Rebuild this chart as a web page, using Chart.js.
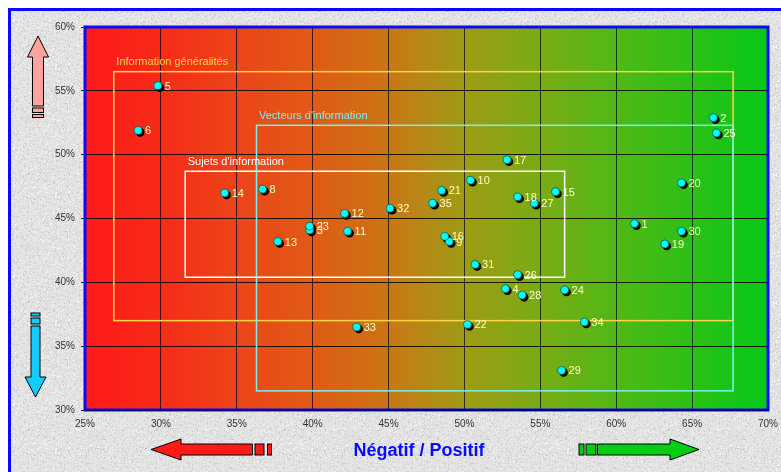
<!DOCTYPE html>
<html>
<head>
<meta charset="utf-8">
<script src="https://cdn.jsdelivr.net/npm/chart.js@4"></script>
<style>
  html, body { margin: 0; padding: 0; background: #fff; overflow: hidden; }
  #wrap { width: 781px; height: 472px; }
</style>
</head>
<body>
<div id="wrap"><canvas id="c" width="781" height="472"></canvas></div>
<script>
// Positions of each numbered item: x = négatif/positif share, y = vertical score (both in %)
const pointIds = [1, 2, 3, 4, 5, 6, 8, 9, 10, 11, 12, 13, 14, 15, 16, 17, 18, 19, 20, 21, 22, 23, 24, 25, 26, 27, 28, 29, 30, 31, 32, 33, 34, 35];
const xValues  = [61.2, 66.4, 39.8, 52.7, 29.8, 28.5, 36.7, 49.0, 50.4, 42.3, 42.1, 37.7, 34.2, 56.0, 48.7, 52.8, 53.5, 63.2, 64.3, 48.5, 50.2, 39.8, 56.6, 66.6, 53.5, 54.6, 53.8, 56.4, 64.3, 50.7, 45.1, 42.9, 57.9, 47.9];
const yValues  = [44.6, 52.9, 44.1, 39.5, 55.4, 51.9, 47.3, 43.2, 48.0, 44.0, 45.4, 43.2, 47.0, 47.1, 43.6, 49.6, 46.7, 43.0, 47.8, 47.2, 36.7, 44.4, 39.4, 51.7, 40.6, 46.2, 39.0, 33.1, 44.0, 41.4, 45.8, 36.5, 36.9, 46.2];

// Grouping frames (bounds in axis units)
const groupNames  = ["Information généralités", "Vecteurs d'information", "Sujets d'information"];
const groupXMin   = [26.9, 36.3, 31.6];
const groupXMax   = [67.7, 67.7, 56.6];
const groupYMin   = [37.0, 31.5, 40.4];
const groupYMax   = [56.5, 52.3, 48.7];
const groupColors = ["#ffd24a", "#7af0ee", "#ffffff"];

const xTicks = [25, 30, 35, 40, 45, 50, 55, 60, 65, 70];
const yTicks = [30, 35, 40, 45, 50, 55, 60];
const axisTitle = "Négatif / Positif";

const FONT = "'Liberation Sans', Arial, sans-serif";

// Light speckled grey texture for the surrounding panel
function makeGranite() {
  const c = document.createElement('canvas');
  c.width = 128; c.height = 128;
  const g = c.getContext('2d');
  const img = g.createImageData(128, 128);
  let s = 12345;
  const rnd = () => { s = (s * 1103515245 + 12345) & 0x7fffffff; return s / 0x7fffffff; };
  for (let i = 0; i < 128 * 128; i++) {
    const r = rnd();
    let v = 226 + Math.round((r - 0.5) * 22);
    if (r > 0.97) v = 250;
    if (r < 0.03) v = 196;
    img.data[i * 4] = v; img.data[i * 4 + 1] = v; img.data[i * 4 + 2] = v; img.data[i * 4 + 3] = 255;
  }
  g.putImageData(img, 0, 0);
  return c;
}
const graniteTile = makeGranite();

function arrowH(ctx, dir, tipX, y, headLen, headHalf, shaftHalf, shaftLen, bars, fill) {
  // bars: list of [offsetStart, width] measured from the shaft end, away from the tip
  const s = dir; // -1 pointing left, +1 pointing right
  const baseX = tipX - s * headLen;
  const endX = baseX - s * shaftLen;
  ctx.beginPath();
  ctx.moveTo(tipX, y);
  ctx.lineTo(baseX, y - headHalf);
  ctx.lineTo(baseX, y - shaftHalf);
  ctx.lineTo(endX, y - shaftHalf);
  ctx.lineTo(endX, y + shaftHalf);
  ctx.lineTo(baseX, y + shaftHalf);
  ctx.lineTo(baseX, y + headHalf);
  ctx.closePath();
  ctx.fillStyle = fill; ctx.fill();
  ctx.strokeStyle = '#000'; ctx.lineWidth = 1; ctx.stroke();
  bars.forEach(([off, w]) => {
    const a = endX - s * off, b = a - s * w;
    const x0 = Math.min(a, b);
    ctx.fillRect(x0, y - shaftHalf, Math.abs(w), shaftHalf * 2);
    ctx.strokeRect(x0, y - shaftHalf, Math.abs(w), shaftHalf * 2);
  });
}

function arrowV(ctx, dir, x, tipY, headLen, headHalf, shaftHalf, shaftLen, bars, fill) {
  const s = dir; // -1 pointing up, +1 pointing down
  const baseY = tipY - s * headLen;
  const endY = baseY - s * shaftLen;
  ctx.beginPath();
  ctx.moveTo(x, tipY);
  ctx.lineTo(x - headHalf, baseY);
  ctx.lineTo(x - shaftHalf, baseY);
  ctx.lineTo(x - shaftHalf, endY);
  ctx.lineTo(x + shaftHalf, endY);
  ctx.lineTo(x + shaftHalf, baseY);
  ctx.lineTo(x + headHalf, baseY);
  ctx.closePath();
  ctx.fillStyle = fill; ctx.fill();
  ctx.strokeStyle = '#000'; ctx.lineWidth = 1; ctx.stroke();
  bars.forEach(([off, h]) => {
    const a = endY - s * off, b = a - s * h;
    const y0 = Math.min(a, b);
    ctx.fillRect(x - shaftHalf, y0, shaftHalf * 2, Math.abs(h));
    ctx.strokeRect(x - shaftHalf, y0, shaftHalf * 2, Math.abs(h));
  });
}

const backdrop = {
  id: 'backdrop',
  beforeDraw(chart) {
    const { ctx, chartArea: a, width, height } = chart;
    ctx.save();
    ctx.fillStyle = '#fff';
    ctx.fillRect(0, 0, width, height);
    ctx.fillStyle = ctx.createPattern(graniteTile, 'repeat');
    ctx.fillRect(9, 9, width - 9, height - 9);
    // outer blue frame (top and left edges)
    ctx.fillStyle = '#0a0aff';
    ctx.fillRect(8, 8, width - 8, 3);
    ctx.fillRect(8, 8, 3, height - 8);

    // red → green plot background
    const gr = ctx.createLinearGradient(a.left, 0, a.right, 0);
    gr.addColorStop(0.00, '#ff1a1a');
    gr.addColorStop(0.11, '#f62b17');
    gr.addColorStop(0.22, '#ec4418');
    gr.addColorStop(0.33, '#e05a16');
    gr.addColorStop(0.44, '#cc7414');
    gr.addColorStop(0.50, '#b48a16');
    gr.addColorStop(0.56, '#9c9c14');
    gr.addColorStop(0.67, '#78ac14');
    gr.addColorStop(0.78, '#50b816');
    gr.addColorStop(0.89, '#2cc016');
    gr.addColorStop(1.00, '#06c818');
    ctx.fillStyle = gr;
    ctx.fillRect(a.left, a.top, a.right - a.left, a.bottom - a.top);

    // direction arrows
    arrowV(ctx, -1, 38, 36, 21, 10.5, 5.5, 49, [[2, 4.5], [8.5, 3]], '#ffa49c');
    arrowV(ctx, 1, 35.5, 397, 20, 10.5, 4.5, 51, [[2, 6], [10, 3]], '#10ccff');
    arrowH(ctx, -1, 151, 449.5, 30, 10.5, 5.5, 71.5, [[2.5, 9], [15, 4]], '#ff1a1a');
    arrowH(ctx, 1, 699, 449.5, 29, 10.5, 5.5, 72.5, [[1.5, 10], [13.5, 5]], '#06cc14');

    ctx.fillStyle = '#0a0aff';
    ctx.font = `bold 18px ${FONT}`;
    ctx.textAlign = 'center';
    ctx.textBaseline = 'middle';
    ctx.fillText(axisTitle, 419, 451);
    ctx.restore();
  },
  beforeDatasetsDraw(chart) {
    const { ctx, chartArea: a, scales: { x, y } } = chart;
    ctx.save();
    // grouping frames and their captions
    groupNames.forEach((name, i) => {
      const x0 = x.getPixelForValue(groupXMin[i]);
      const x1 = x.getPixelForValue(groupXMax[i]);
      const y0 = y.getPixelForValue(groupYMax[i]);
      const y1 = y.getPixelForValue(groupYMin[i]);
      ctx.strokeStyle = groupColors[i];
      ctx.lineWidth = 1.5;
      ctx.strokeRect(x0, y0, x1 - x0, y1 - y0);
      ctx.fillStyle = groupColors[i];
      ctx.font = `11px ${FONT}`;
      ctx.textAlign = 'left';
      ctx.textBaseline = 'middle';
      ctx.fillText(name, x0 + 2.5, y0 - 9.5);
    });
    // plot frame
    ctx.strokeStyle = '#0a0aff';
    ctx.lineWidth = 3;
    ctx.strokeRect(a.left, a.top, a.right - a.left, a.bottom - a.top);
    ctx.strokeStyle = '#00008c';
    ctx.lineWidth = 2;
    ctx.beginPath();
    ctx.moveTo(a.left - 1, a.bottom);
    ctx.lineTo(a.right + 1, a.bottom);
    ctx.stroke();
    // drop shadows under the markers
    ctx.fillStyle = '#000';
    chart.getDatasetMeta(0).data.forEach(pt => {
      ctx.beginPath();
      ctx.arc(pt.x + 2, pt.y + 2, 4.3, 0, Math.PI * 2);
      ctx.fill();
    });
    ctx.restore();
  },
  afterDatasetsDraw(chart) {
    const { ctx } = chart;
    const meta = chart.getDatasetMeta(0);
    ctx.save();
    ctx.fillStyle = '#ffffc8';
    ctx.font = `11px ${FONT}`;
    ctx.textAlign = 'left';
    ctx.textBaseline = 'middle';
    meta.data.forEach((pt, i) => {
      ctx.fillText(String(pointIds[i]), pt.x + 7, pt.y + 1);
    });
    ctx.restore();
  }
};

const points = pointIds.map((id, i) => ({ x: xValues[i], y: yValues[i] }));

new Chart(document.getElementById('c'), {
  type: 'scatter',
  data: {
    datasets: [{
      data: points,
      pointRadius: 4,
      pointHoverRadius: 4,
      pointBackgroundColor: '#00ffff',
      pointBorderColor: 'rgba(0,60,60,0.8)',
      pointBorderWidth: 0.8
    }]
  },
  options: {
    responsive: false,
    animation: false,
    events: [],
    layout: { padding: { top: 27, right: 13, left: 0, bottom: 0 } },
    plugins: { legend: { display: false }, tooltip: { enabled: false } },
    scales: {
      x: {
        type: 'linear',
        min: xTicks[0], max: xTicks[xTicks.length - 1],
        afterBuildTicks(s) { s.ticks = xTicks.map(v => ({ value: v })); },
        afterFit(s) { s.height = 62; s.paddingLeft = 0; s.paddingRight = 0; },
        ticks: {
          callback: v => v + '%',
          color: '#333',
          font: { size: 10, family: FONT },
          padding: 8,
          maxRotation: 0
        },
        grid: { color: 'rgba(0,0,0,0.72)', lineWidth: 1, drawTicks: false },
        border: { display: false }
      },
      y: {
        type: 'linear',
        min: yTicks[0], max: yTicks[yTicks.length - 1],
        afterBuildTicks(s) { s.ticks = yTicks.map(v => ({ value: v })); },
        afterFit(s) { s.width = 85; s.paddingTop = 0; s.paddingBottom = 0; },
        ticks: {
          callback: v => v + '%',
          color: '#333',
          font: { size: 10, family: FONT },
          padding: 6
        },
        grid: { color: 'rgba(0,0,0,0.85)', lineWidth: 1, tickLength: 4 },
        border: { display: false }
      }
    }
  },
  plugins: [backdrop]
});
</script>
</body>
</html>
